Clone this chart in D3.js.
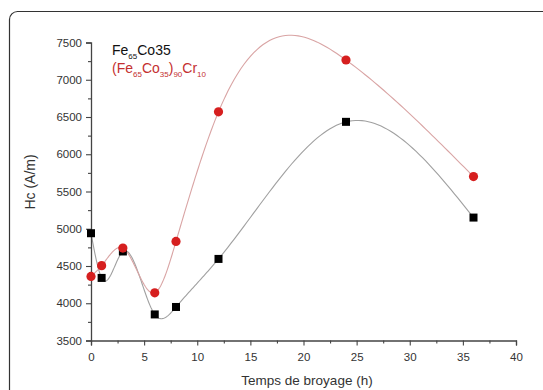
<!DOCTYPE html>
<html>
<head>
<meta charset="utf-8">
<script src="https://cdn.jsdelivr.net/npm/d3@7"></script>
<style>
  body { margin: 0; background: #fff; }
  svg { font-family: "Liberation Sans", Arial, sans-serif; }
</style>
</head>
<body>
<svg width="543" height="390"></svg>
<script>
// milling time (h)
var hours = [0, 1, 3, 6, 8, 12, 24, 36];
// Hc (A/m) for each alloy
var feCo = [4940, 4340, 4695, 3850, 3950, 4595, 6435, 5150];
var feCoCr = [4360, 4505, 4740, 4140, 4830, 6570, 7265, 5700];
var xTicks = [0, 5, 10, 15, 20, 25, 30, 35, 40];
var yTicks = [3500, 4000, 4500, 5000, 5500, 6000, 6500, 7000, 7500];

var svg = d3.select('svg');

// frame round the figure
svg.append('rect')
  .attr('x', 9.5).attr('y', 11.5)
  .attr('width', 560).attr('height', 400)
  .attr('rx', 8)
  .attr('fill', 'none')
  .attr('stroke', '#333')
  .attr('stroke-width', 1.2);

var x = d3.scaleLinear().domain([0, 40]).range([91, 516]);
var y = d3.scaleLinear().domain([3500, 7500]).range([340.5, 42.5]);

// natural cubic spline y(x) through the points, like the original plot
function spline(xs, ys) {
  var n = xs.length - 1, h = [], a = [], l = [1], mu = [0], z = [0], M = [];
  for (var i = 0; i < n; i++) h[i] = xs[i + 1] - xs[i];
  for (i = 1; i < n; i++)
    a[i] = 3 / h[i] * (ys[i + 1] - ys[i]) - 3 / h[i - 1] * (ys[i] - ys[i - 1]);
  for (i = 1; i < n; i++) {
    l[i] = 2 * (xs[i + 1] - xs[i - 1]) - h[i - 1] * mu[i - 1];
    mu[i] = h[i] / l[i];
    z[i] = (a[i] - h[i - 1] * z[i - 1]) / l[i];
  }
  var c = [], b = [], d = [];
  c[n] = 0;
  for (i = n - 1; i >= 0; i--) {
    c[i] = (i === 0 ? 0 : z[i]) - mu[i] * c[i + 1];
    b[i] = (ys[i + 1] - ys[i]) / h[i] - h[i] * (c[i + 1] + 2 * c[i]) / 3;
    d[i] = (c[i + 1] - c[i]) / (3 * h[i]);
  }
  var out = [];
  for (i = 0; i < n; i++) {
    for (var k = 0; k < 40; k++) {
      var t = h[i] * k / 40;
      out.push([xs[i] + t, ys[i] + b[i] * t + c[i] * t * t + d[i] * t * t * t]);
    }
  }
  out.push([xs[n], ys[n]]);
  return out;
}

var series = [
  { values: feCo, line: '#a0a0a0', mark: '#000', shape: 'square' },
  { values: feCoCr, line: '#d9a4a4', mark: '#d61f1f', shape: 'circle' }
];

var line = d3.line()
  .x(function(d) { return x(d[0]); })
  .y(function(d) { return y(d[1]); });

series.forEach(function(s) {
  svg.append('path')
    .attr('d', line(spline(hours, s.values)))
    .attr('fill', 'none')
    .attr('stroke', s.line)
    .attr('stroke-width', 1.1);
});

// axes
var axisColor = '#444';
svg.append('g').attr('transform', 'translate(0,' + y(3500) + ')')
  .call(d3.axisBottom(x).tickValues(xTicks).tickSize(5).tickPadding(7).tickFormat(d3.format('d')));
svg.append('g').attr('transform', 'translate(' + x(0) + ',0)')
  .call(d3.axisLeft(y).tickValues(yTicks).tickSize(5).tickPadding(4).tickFormat(d3.format('d')));

// minor ticks
svg.append('g').attr('transform', 'translate(0,' + y(3500) + ')')
  .call(d3.axisBottom(x).tickValues(d3.range(2.5, 40, 5)).tickSize(3).tickFormat(''))
  .select('.domain').remove();
svg.append('g').attr('transform', 'translate(' + x(0) + ',0)')
  .call(d3.axisLeft(y).tickValues(d3.range(3750, 7500, 500)).tickSize(3).tickFormat(''))
  .select('.domain').remove();

svg.selectAll('.domain').attr('stroke', axisColor).attr('stroke-width', 1.3);
svg.selectAll('.tick line').attr('stroke', axisColor).attr('stroke-width', 1.1);
svg.selectAll('.tick text').attr('fill', '#333').style('font-size', '11.5px')
  .style('font-family', '"Liberation Sans", Arial, sans-serif');

// markers drawn over axes
series.forEach(function(s) {
  var g = svg.append('g');
  hours.forEach(function(h, i) {
    if (s.shape === 'square') {
      g.append('rect')
        .attr('x', x(h) - 4).attr('y', y(s.values[i]) - 4)
        .attr('width', 8).attr('height', 8)
        .attr('fill', s.mark);
    } else {
      g.append('circle')
        .attr('cx', x(h)).attr('cy', y(s.values[i]))
        .attr('r', 4.6)
        .attr('fill', s.mark);
    }
  });
});

// axis titles
svg.append('text')
  .attr('x', 307).attr('y', 385)
  .attr('text-anchor', 'middle')
  .style('font-size', '13.5px').attr('fill', '#333')
  .text('Temps de broyage (h)');
svg.append('text')
  .attr('transform', 'translate(35,182) rotate(-90)')
  .attr('text-anchor', 'middle')
  .style('font-size', '14px').attr('fill', '#333')
  .text('Hc (A/m)');

// legend text with subscripts
function label(yPos, parts, color) {
  var t = svg.append('text')
    .attr('x', 112).attr('y', yPos)
    .attr('fill', color)
    .style('font-size', '14px');
  var low = false;
  parts.forEach(function(p) {
    var dy = p[1] && !low ? 4 : (!p[1] && low ? -4 : 0);
    low = !!p[1];
    t.append('tspan')
      .attr('dy', dy)
      .style('font-size', p[1] ? '8px' : '14px')
      .text(p[0]);
  });
}
label(55, [['Fe', 0], ['65', 1], ['Co35', 0]], '#111');
label(73, [['(Fe', 0], ['65', 1], ['Co', 0], ['35', 1], [')', 0], ['90', 1], ['Cr', 0], ['10', 1]], '#c43030');
</script>
</body>
</html>
